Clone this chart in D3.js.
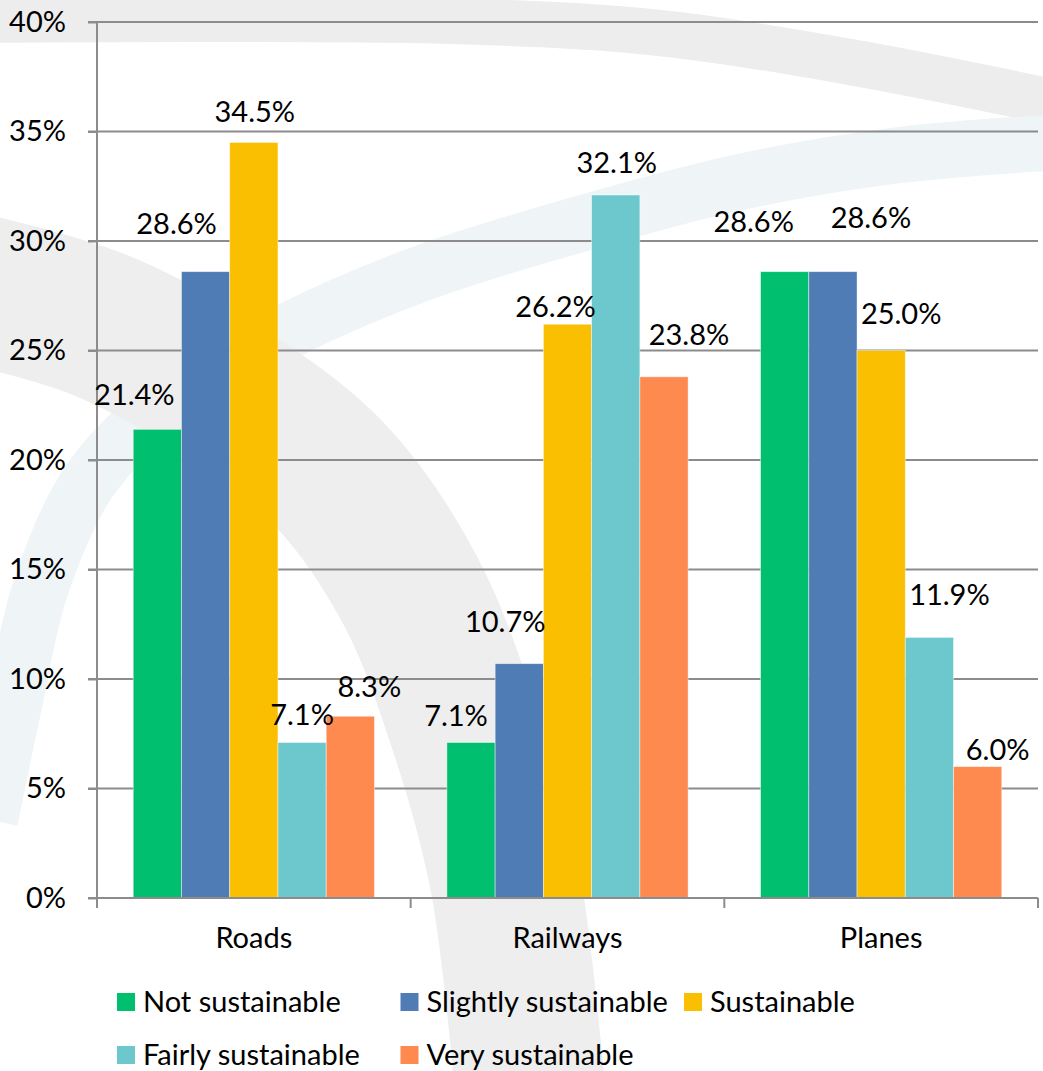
<!DOCTYPE html>
<html>
<head>
<meta charset="utf-8">
<script src="https://cdn.jsdelivr.net/npm/d3@7"></script>
<style>
  html, body { margin: 0; padding: 0; background: #ffffff; }
  svg { display: block; }
  text { font-family: Lato, "Open Sans", sans-serif; fill: #000; }
</style>
</head>
<body>
<svg id="chart" width="1043" height="1071"></svg>
<script>
// ---------------- DATA ----------------
const categories = ["Roads", "Railways", "Planes"];
const seriesNames = ["Not sustainable", "Slightly sustainable", "Sustainable", "Fairly sustainable", "Very sustainable"];
const notSustainable      = [21.4, 7.1, 28.6];
const slightlySustainable = [28.6, 10.7, 28.6];
const sustainable         = [34.5, 26.2, 25.0];
const fairlySustainable   = [7.1, 32.1, 11.9];
const verySustainable     = [8.3, 23.8, 6.0];
const yTicks = [0, 5, 10, 15, 20, 25, 30, 35, 40];

// ---------------- STYLE / LAYOUT ----------------
const colors = ["#00BF6F", "#4F7CB4", "#F9BF00", "#6CC8CC", "#FF8A50"];
// manual label nudges (Excel-style moved labels), [dx, dy] per series per category
const labelNudge = [
  [[-23, -4], [-15, 3], [-31, -20]],
  [[-29, -18], [-14, -12], [38, -24]],
  [[1, 0], [-12, 13], [20, -7]],
  [[0, 2], [1, -2], [20, -12]],
  [[19, 1], [25, -12], [20, 13]]
];
const seriesValues = [notSustainable, slightlySustainable, sustainable, fairlySustainable, verySustainable];

const W = 1043, H = 1071;
const plot = { left: 97, right: 1038, top: 22, bottom: 898 };
const fontSize = 29;
const gridColor = "#8C8C8C";

const svg = d3.select("#chart");

// ---------------- BACKGROUND WATERMARK ----------------
const wm = svg.append("g");
const curve = d3.line().curve(d3.curveCatmullRom.alpha(0.5));
wm.append("path")
  .attr("d", curve([[-40, 20], [200, 19], [450, 21], [650, 32], [850, 62], [1100, 112]]))
  .attr("fill", "none").attr("stroke", "#ededed").attr("stroke-width", 46);
wm.append("path")
  .attr("d", curve([[1100, 140], [900, 155], [740, 182], [580, 224], [420, 274], [290, 330], [170, 400], [90, 480], [40, 590], [15, 700], [-10, 820]]))
  .attr("fill", "none").attr("stroke", "#eff4f6").attr("stroke-width", 56);
wm.append("path")
  .attr("d", curve([[-40, 285], [100, 325], [220, 390], [330, 475], [410, 590], [465, 730], [505, 880], [530, 1090]]))
  .attr("fill", "none").attr("stroke", "#eeeeee").attr("stroke-width", 150);

// ---------------- SCALES ----------------
const y = d3.scaleLinear().domain([0, 40]).range([plot.bottom, plot.top]);
const x0 = d3.scaleBand().domain(categories).range([plot.left, plot.right]).paddingInner(0).paddingOuter(0);
const gap = x0.bandwidth() * 0.1155;
const x1 = d3.scaleBand().domain(seriesNames).range([gap, x0.bandwidth() - gap]).padding(0);

// ---------------- GRID ----------------
svg.append("g")
  .selectAll("line")
  .data(yTicks.filter(d => d > 0))
  .join("line")
  .attr("x1", plot.left - 9).attr("x2", plot.right)
  .attr("y1", d => y(d)).attr("y2", d => y(d))
  .attr("stroke", gridColor).attr("stroke-width", 2);

// ---------------- BARS ----------------
const barData = [];
seriesNames.forEach((s, si) => {
  categories.forEach((c, ci) => {
    barData.push({ s, si, c, ci, v: seriesValues[si][ci] });
  });
});

svg.append("g")
  .selectAll("rect")
  .data(barData)
  .join("rect")
  .attr("x", d => x0(d.c) + x1(d.s))
  .attr("y", d => y(d.v))
  .attr("width", x1.bandwidth())
  .attr("height", d => y(0) - y(d.v))
  .attr("fill", d => colors[d.si])
  .attr("stroke", "rgba(255,255,255,0.55)")
  .attr("stroke-width", 0.8);

// ---------------- AXES ----------------
const yAxis = d3.axisLeft(y).tickValues(yTicks).tickFormat(d => d + "%").tickSize(9).tickPadding(22);
const gy = svg.append("g").attr("transform", `translate(${plot.left},0)`).call(yAxis);
gy.select(".domain").attr("stroke", gridColor).attr("stroke-width", 2).attr("d", `M-9,${plot.bottom}H0V${plot.top}H-9`);
gy.selectAll(".tick line").attr("stroke", gridColor).attr("stroke-width", 2);
gy.selectAll(".tick text").attr("font-size", fontSize).attr("font-family", "Lato, sans-serif").attr("fill", "#000");

// x axis baseline + boundary ticks
const gx = svg.append("g").attr("transform", `translate(0,${plot.bottom})`);
gx.append("line").attr("x1", plot.left - 9).attr("x2", plot.right).attr("y1", 0).attr("y2", 0)
  .attr("stroke", gridColor).attr("stroke-width", 2);
const boundaries = categories.map(c => x0(c)).concat([x0(categories[categories.length - 1]) + x0.bandwidth()]);
gx.selectAll("line.bt").data(boundaries).join("line").attr("class", "bt")
  .attr("x1", d => d).attr("x2", d => d).attr("y1", 0).attr("y2", 10)
  .attr("stroke", gridColor).attr("stroke-width", 2);
gx.selectAll("text.cat").data(categories).join("text").attr("class", "cat")
  .attr("x", d => x0(d) + x0.bandwidth() / 2)
  .attr("y", 50)
  .attr("text-anchor", "middle")
  .attr("font-size", fontSize)
  .text(d => d);

// ---------------- DATA LABELS ----------------
svg.append("g")
  .selectAll("text")
  .data(barData)
  .join("text")
  .attr("x", d => x0(d.c) + x1(d.s) + x1.bandwidth() / 2 + labelNudge[d.si][d.ci][0])
  .attr("y", d => y(d.v) - 20 + labelNudge[d.si][d.ci][1])
  .attr("text-anchor", "middle")
  .attr("font-size", fontSize)
  .text(d => d.v.toFixed(1) + "%");

// ---------------- LEGEND ----------------
const legend = svg.append("g").attr("transform", "translate(117,0)");
const colW = 283.5, rowY = [1012, 1065], perRow = 3;
const li = legend.selectAll("g").data(seriesNames).join("g")
  .attr("transform", (d, i) => `translate(${(i % perRow) * colW},${rowY[Math.floor(i / perRow)]})`);
li.append("rect").attr("x", 0).attr("y", -19).attr("width", 18).attr("height", 18)
  .attr("fill", (d, i) => colors[i]);
li.append("text").attr("x", 26).attr("y", 0).attr("font-size", fontSize).text(d => d);
</script>
</body>
</html>
